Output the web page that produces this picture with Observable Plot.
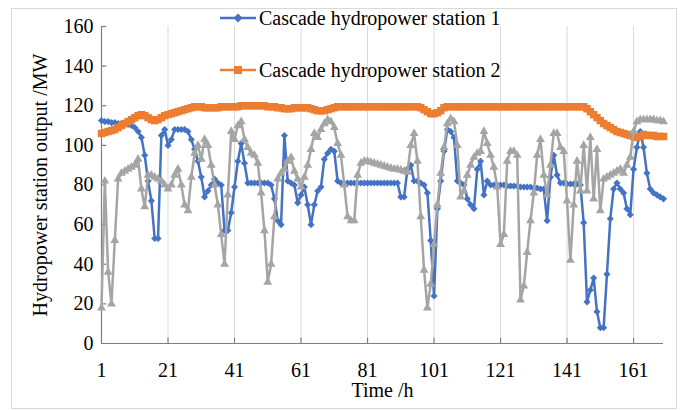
<!DOCTYPE html>
<html><head><meta charset="utf-8">
<script src="https://cdn.jsdelivr.net/npm/d3@7"></script>
<script src="https://cdn.jsdelivr.net/npm/@observablehq/plot@0.6"></script>
<style>
body{margin:0;background:#fff;}
#wrap{position:relative;width:681px;height:410px;font-family:"Liberation Serif","Times New Roman",serif;overflow:hidden;}
#frame{position:absolute;left:11px;top:8px;width:666px;height:401px;border:1px solid #d9d9d9;box-sizing:border-box;pointer-events:none;}
#chart{position:absolute;left:0;top:0;}
#chart svg, #chart svg text{font-family:"Liberation Serif","Times New Roman",serif !important;}
.leg{position:absolute;left:220px;font-size:20px;line-height:20px;display:flex;align-items:center;white-space:nowrap;color:#000;}
.leg svg{margin-right:2px;}
</style></head><body>
<div id="wrap"><div id="frame"></div><div id="chart"></div><div id="legend"></div></div>
<script>
// time index 1..170
const hours = d3.range(1, 171);
const xTicks = [1, 21, 41, 61, 81, 101, 121, 141, 161];
const yTicks = [0, 20, 40, 60, 80, 100, 120, 140, 160];
const seriesNames = ["Cascade hydropower station 1", "Cascade hydropower station 2"];
const xLabel = "Time /h";
const yLabel = "Hydropower station output /MW";

const station1 = [
 112.5,112,112,111.5,111.5,111,111,110.5,110.5,110,
 109,107,104,95,82,72,53,53,105,108,
 100,103,108,108,108,108,107,103,98,92,
 84,74,77,80,83,81,80,57,57,66,
 79,92,101,91,81,81,81,81,81,81,
 81,80,73,62,60,105,82,81,80,71,
 75,79,70,60,70,77,79,93,96,98,
 97,82,81,81,81,81,81,81,81,81,
 81,81,81,81,81,81,81,81,81,81,
 74,74,88,90,82,82,81,80,76,52,
 24,68,82,97,108,107,104,82,81,80,
 73,70,68,88,92,75,82,80,80,80,
 80,80,79.5,79.5,79.5,79.5,79,79,79,79,
 78.5,78.5,78,78,62,84,95,85,81,81,
 80.5,80.5,80.5,80.5,80,61,21,27,33,16,
 8,8,35,63,78,81,78,76,68,65,
 88,99,107,99,86,78,76,75,74,73
];
const station2 = [
 106,106.5,107,107.5,108,109,110,111,112,113,
 114,115,115.5,115,114,113,112.5,113,114,115,
 115.5,116,116.5,117,117.5,118,118.5,119,119.5,119.5,
 119.5,119,119,119,119,119,119.5,119.5,119.5,119.5,
 119.5,119.5,120,120,120,120,120,120,120,120,
 119.5,119.5,119.5,119,119,118.5,118.5,118.5,119,119,
 119,119,119,118.5,118,117.5,117.5,117.5,118,118.5,
 119,119.5,119.5,119.5,119.5,119.5,119.5,119.5,119.5,119.5,
 119.5,119.5,119.5,119.5,119.5,119.5,119.5,119.5,119.5,119.5,
 119.5,119.5,119.5,119.5,119.5,119.5,119,118,117,116,
 116,116.5,117.5,119,119.5,119.5,119.5,119.5,119.5,119.5,
 119.5,119.5,119.5,119.5,119.5,119.5,119.5,119.5,119.5,119.5,
 119.5,119.5,119.5,119.5,119.5,119.5,119.5,119.5,119.5,119.5,
 119.5,119.5,119.5,119.5,119.5,119.5,119.5,119.5,119.5,119.5,
 119.5,119.5,119.5,119.5,119.5,119.5,118.5,117,115.5,114,
 112.5,111,110,109,108,107,106.5,106,105.5,105,
 104.5,104,104.5,105.5,105,105,105,104.5,104.5,104.5
];
const station3 = [
 18,82,36,20,52,83,86,87,88,89,
 90,93,78,69,85,85,84,83,82,80,
 78,80,85,88,80,70,67,84,96,100,
 93,103,100,90,80,70,55,40,75,107,
 103,110,112,103,99,96,95,91,76,57,
 31,40,64,83,86,88,92,94,87,83,
 79,84,90,98,106,104,108,111,113,112,
 109,101,95,80,64,62,62,85,91,92,
 92,91.5,91,90.5,90,89.5,89,88.5,88,88,
 87.5,87,86.5,100,106,92,64,37,18,30,
 50,70,86,99,111,113.5,112,100,74,77,
 85,90,94,96,97,107,101,95,89,79,
 50,55,92,97,97,95,22,29,46,62,
 76,95,103,85,75,90,106,106,99,97,
 72,42,70,92,77,100,77,104,73,98,
 67,83,84,85,86,87,88,86,90,94,
 107,112,113,113,113,113,113,112.5,112.5,112
];

const colors = ["#4472C4", "#ED7D31", "#A5A5A5"];
const rows = hours.map((t, i) => ({t, a: station1[i], b: station2[i], c: station3[i]}));

const font = '"Liberation Serif", "Times New Roman", serif';
const axisColor = "#7f7f7f";

const chart = Plot.plot({
  width: 681,
  height: 410,
  marginLeft: 101,
  marginRight: 18,
  marginTop: 26,
  marginBottom: 67,
  style: {fontFamily: font, fontSize: "20px", color: "#000", background: "transparent", overflow: "visible"},
  x: {domain: [1, 170]},
  y: {domain: [0, 160]},
  marks: [
    Plot.gridX(xTicks.slice(1), {stroke: "#d9d9d9", strokeOpacity: 1, strokeWidth: 1}),
    Plot.axisX(xTicks, {tickSize: 0, tickPadding: 19, fontSize: 20, fontFamily: font, label: null, fill: "#000"}),
    Plot.axisY(yTicks, {tickSize: 0, tickPadding: 8, fontSize: 20, fontFamily: font, label: null, fill: "#000"}),
    Plot.ruleX(xTicks.slice(1), {x: d => d, y1: 0, y2: 2.6, stroke: axisColor, strokeWidth: 1.2}),
    Plot.ruleY(yTicks.slice(1), {y: d => d, x1: 1, x2: 2.6, stroke: axisColor, strokeWidth: 1.2}),
    Plot.ruleY([0], {stroke: axisColor, strokeWidth: 1.2}),
    Plot.ruleX([1], {stroke: axisColor, strokeWidth: 1.2}),
    Plot.line(rows, {x: "t", y: "a", stroke: colors[0], strokeWidth: 2.5}),
    Plot.dot(rows, {x: "t", y: "a", symbol: "diamond2", r: 3.2, fill: colors[0], stroke: "none"}),
    Plot.line(rows, {x: "t", y: "b", stroke: colors[1], strokeWidth: 2.5}),
    Plot.dot(rows, {x: "t", y: "b", symbol: "square", r: 4.2, fill: colors[1], stroke: "none"}),
    Plot.line(rows, {x: "t", y: "c", stroke: colors[2], strokeWidth: 2.5}),
    Plot.dot(rows, {x: "t", y: "c", symbol: "triangle", r: 3.3, fill: colors[2], stroke: "none"}),
    Plot.text([xLabel], {frameAnchor: "bottom", dy: 53, fontSize: 20, fill: "#000", fontFamily: font}),
    Plot.text([yLabel], {frameAnchor: "left", textAnchor: "middle", dx: -61, rotate: -90, fontSize: 20, fill: "#000", fontFamily: font})
  ]
});
document.getElementById("chart").appendChild(chart);

// legend (HTML overlay)
const legend = document.getElementById("legend");
const markers = [
  `<svg width="37" height="12"><line x1="0" y1="6" x2="36" y2="6" stroke="${colors[0]}" stroke-width="2.5"/><path d="M18,1.5 L22.5,6 L18,10.5 L13.5,6Z" fill="${colors[0]}"/></svg>`,
  `<svg width="37" height="12"><line x1="0" y1="6" x2="36" y2="6" stroke="${colors[1]}" stroke-width="2.5"/><rect x="14" y="2" width="8" height="8" fill="${colors[1]}"/></svg>`
];
const legTops = [8, 60];
seriesNames.forEach((name, i) => {
  const d = document.createElement("div");
  d.className = "leg";
  d.style.top = legTops[i] + "px";
  d.innerHTML = markers[i] + `<span>${name}</span>`;
  legend.appendChild(d);
});
</script>
</body></html>
